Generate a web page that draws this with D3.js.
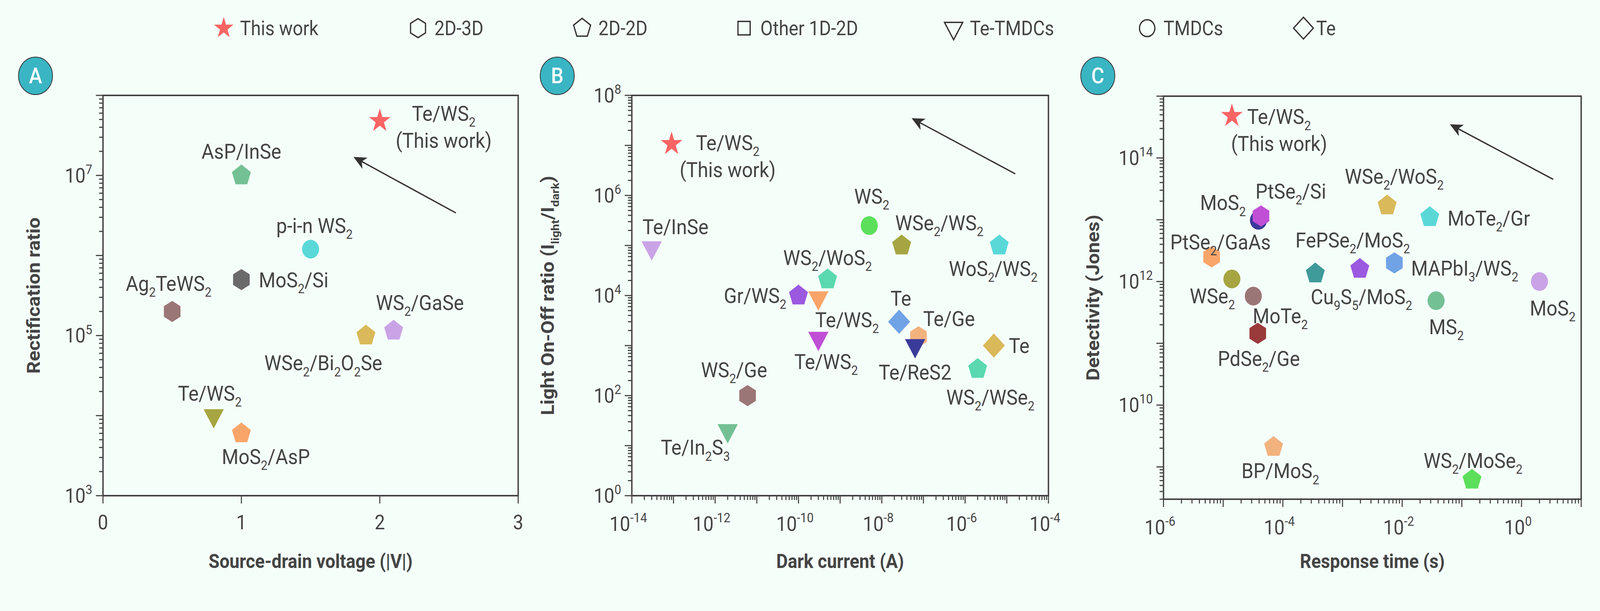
<!DOCTYPE html>
<html>
<head>
<meta charset="utf-8">
<script src="https://cdn.jsdelivr.net/npm/d3@7"></script>
<style>
  html, body { margin: 0; padding: 0; background: #f5fffa; overflow: hidden; }
  svg { display: block; width: 100vw; height: 100vh; font-family: Roboto, "Noto Sans", sans-serif; }
</style>
</head>
<body>
<svg id="chart" viewBox="0 0 4505 1563" preserveAspectRatio="none"></svg>
<script>
// ---- data (A) ----
var aLabels = ["Te/WS_{2}|(This work)", "AsP/InSe", "p-i-n WS_{2}", "MoS_{2}/Si", "Ag_{2}TeWS_{2}", "WSe_{2}/Bi_{2}O_{2}Se", "WS_{2}/GaSe", "Te/WS_{2}", "MoS_{2}/AsP"];
var aVoltage = [2, 1, 1.5, 1, 0.5, 1.9, 2.1, 0.8, 1];
var aRatio = [4.8e7, 1e7, 1.2e6, 5e5, 2e5, 1e5, 1.15e5, 1e4, 6e3];
var aShape = ["star", "pent", "circle", "hex", "hex", "pent", "pent", "tri", "pent"];
var aColor = ["#f96464", "#74c095", "#5ad8d8", "#6a6a6a", "#9b7676", "#d9b95a", "#c9a3e6", "#a6a542", "#f9a56a"];
var aLabelDx = [180, 0, 11, 49, -10, -120, 74, -11, 69];
var aLabelDy = [0, -43, -41, 20, -53, 89, -53, -38, 78];
var aAnchor = ["middle", "middle", "middle", "start", "middle", "middle", "middle", "middle", "middle"];

// ---- data (B) ----
var bLabels = ["Te/WS_{2}|(This work)", "Te/InSe", "WS_{2}/Ge", "Te/In_{2}S_{3}", "Gr/WS_{2}", "Te/WS_{2}", "WS_{2}/WoS_{2}", "Te/WS_{2}", "WS_{2}", "WSe_{2}/WS_{2}", "Te", "Te/Ge", "Te/ReS2", "WoS_{2}/WS_{2}", "Te", "WS_{2}/WSe_{2}"];
var bDark = [9e-14, 3e-14, 6e-12, 2e-12, 1e-10, 3e-10, 5e-10, 3e-10, 5e-9, 3e-8, 2.6e-8, 7.6e-8, 6.3e-8, 6.6e-6, 4.9e-6, 2e-6];
var bOnOff = [1.07e7, 9e4, 100, 20, 1e4, 9e3, 2.1e4, 1.4e3, 2.5e5, 1e5, 3e3, 1.5e3, 1e3, 1e5, 1e3, 3.4e2];
var bShape = ["star", "tri", "hex", "tri", "pent", "tri", "pent", "tri", "circle", "pent", "diamond", "hex", "tri", "pent", "diamond", "pent"];
var bColor = ["#f96464", "#c9a3e6", "#9b7676", "#74c095", "#9b59e0", "#f9a56a", "#5ad8b0", "#c04fd6", "#5ce05c", "#a6a542", "#6fa3e6", "#f2b27e", "#3a3a9a", "#5ad8d8", "#d9b95a", "#5ad8b0"];
var bLabelDx = [158, 67, -38, -91, -122, 81, 0, 22, 7, 106, 5, 86, 0, -17, 42, 36];
var bLabelDy = [16, -35, -47, 62, 19, 75, -37, 79, -56, -39, -41, -27, 87, 78, 19, 91];
var bAnchor = ["middle", "middle", "middle", "middle", "middle", "middle", "middle", "middle", "middle", "middle", "middle", "middle", "middle", "middle", "start", "middle"];

// ---- data (C) ----
var cLabels = ["Te/WS_{2}|(This work)", "MoS_{2}", "PtSe_{2}/Si", "PtSe_{2}/GaAs", "WSe_{2}", "MoTe_{2}", "PdSe_{2}/Ge", "BP/MoS_{2}", "Cu_{9}S_{5}/MoS_{2}", "FePSe_{2}/MoS_{2}", "WSe_{2}/WoS_{2}", "MAPbI_{3}/WS_{2}", "MoTe_{2}/Gr", "MS_{2}", "MoS_{2}", "WS_{2}/MoSe_{2}"];
var cTime = [1.4e-5, 3.9e-5, 4.3e-5, 6.4e-6, 1.4e-5, 3.2e-5, 3.8e-5, 7e-5, 3.5e-4, 1.95e-3, 5.6e-3, 7.4e-3, 2.9e-2, 3.7e-2, 2, 0.148];
var cDetect = [4.8e14, 9.8e12, 1.15e13, 2.5e12, 1.1e12, 5.8e11, 1.45e11, 2.1e9, 1.35e12, 1.6e12, 1.7e13, 2e12, 1.1e13, 4.9e11, 1e12, 6.2e8];
var cShape = ["star", "circle", "hex", "hex", "circle", "circle", "hex", "pent", "pent", "pent", "pent", "hex", "pent", "circle", "circle", "pent"];
var cColor = ["#f96464", "#3a3a9a", "#c04fd6", "#f9a56a", "#a6a542", "#9b7676", "#9a3a3a", "#f2b27e", "#3f9a9a", "#9b59e0", "#d9b95a", "#6fa3e6", "#5ad8d8", "#74c095", "#c9a3e6", "#5ce05c"];
var cLabelDx = [133, -100, 84, 25, -55, 76, 3, 19, 130, -20, 20, 198, 50, 29, 37, 3];
var cLabelDy = [21, -26, -45, -19, 62, 69, 83, 80, 78, -55, -56, 32, 21, 86, 87, -30];
var cAnchor = ["middle", "middle", "middle", "middle", "middle", "middle", "middle", "middle", "middle", "middle", "middle", "middle", "start", "middle", "middle", "middle"];

// legend
var legendNames = ["This work", "2D-3D", "2D-2D", "Other 1D-2D", "Te-TMDCs", "TMDCs", "Te"];
var legendShapes = ["star", "hex", "pent", "square", "tri", "circle", "diamond"];
var legendX = [630, 1177, 1639, 2095, 2685, 3230, 3670];

var ink = "#444";
var svg = d3.select("#chart");
svg.append("rect").attr("width", 4505).attr("height", 1563).attr("fill", "#f5fffa");

// marker path for a shape
function polygon(n, r, rot) {
  var pts = d3.range(n).map(function (i) {
    var a = rot + i * 2 * Math.PI / n;
    return [r * Math.sin(a), -r * Math.cos(a)];
  });
  return "M" + pts.join("L") + "Z";
}
function shapePath(s, k) {
  k = k || 1;
  if (s == "star") return d3.symbol(d3.symbolStar, 1150 * k * k)();
  if (s == "pent") return polygon(5, 28 * k, 0);
  if (s == "hex") return polygon(6, 27 * k, 0);
  if (s == "tri") return polygon(3, 33 * k, Math.PI);
  if (s == "diamond") return polygon(4, 31 * k, 0);
  if (s == "square") return polygon(4, 27 * k, Math.PI / 4);
  return d3.symbol(d3.symbolCircle, Math.PI * 24 * 24 * k * k)();
}

// text with _{sub} pieces
function richText(sel, str, size) {
  var parts = str.split(/(_\{[^}]*\})/).filter(function (p) { return p.length; });
  var down = false;
  parts.forEach(function (p) {
    if (p[0] == "_") {
      sel.append("tspan").attr("font-size", size * 0.62).attr("dy", size * 0.28).text(p.slice(2, -1));
      down = true;
    } else {
      var t = sel.append("tspan").text(p);
      if (down) t.attr("dy", -size * 0.28);
      down = false;
    }
  });
}

function powLabel(sel, exp, size) {
  sel.append("tspan").text("10");
  sel.append("tspan").attr("font-size", size * 0.65).attr("dy", -size * 0.42).text(exp);
}

// ---- legend ----
legendNames.forEach(function (name, i) {
  var g = svg.append("g").attr("transform", "translate(" + legendX[i] + ",72)");
  g.append("path").attr("d", shapePath(legendShapes[i], 0.9))
    .attr("fill", i == 0 ? "#f96464" : "none")
    .attr("stroke", i == 0 ? "none" : "#333").attr("stroke-width", 3.5);
  g.append("text").attr("x", i == 6 ? 36 : 46).attr("y", 18).attr("font-size", 51).attr("fill", ink).text(name);
});

function panel(opt) {
  var g = svg.append("g");
  var x = opt.x, y = opt.y;
  var L = opt.box[0], R = opt.box[1], T = opt.box[2], B = opt.box[3];

  // letter badge
  g.append("circle").attr("cx", opt.badge).attr("cy", 194).attr("r", 48)
    .attr("fill", "#3ab5c3").attr("stroke", "#333").attr("stroke-width", 2);
  g.append("text").attr("x", opt.badge).attr("y", 213).attr("text-anchor", "middle")
    .attr("font-size", 56).attr("font-weight", 500).attr("fill", "#fff").text(opt.letter);

  // y ticks (log)
  var yd = y.domain();
  var e0 = Math.floor(Math.log10(yd[0])), e1 = Math.ceil(Math.log10(yd[1]));
  for (var e = e0; e <= e1; e++) {
    for (var m = 1; m < 10; m++) {
      var v = m * Math.pow(10, e);
      if (v < yd[0] * 0.999 || v > yd[1] * 1.001) continue;
      var len = m == 1 ? 20 : 11;
      g.append("line").attr("x1", L - len).attr("x2", L).attr("y1", y(v)).attr("y2", y(v))
        .attr("stroke", ink).attr("stroke-width", 3);
      if (m == 1 && (Math.abs(e % 2) == opt.yParity)) {
        var t = g.append("text").attr("x", L - 30).attr("y", y(v) + 18).attr("text-anchor", "end")
          .attr("font-size", 52).attr("fill", ink);
        powLabel(t, e, 52);
      }
    }
  }
  // x ticks
  if (opt.xlog) {
    var xd = x.domain();
    var f0 = Math.round(Math.log10(xd[0])), f1 = Math.round(Math.log10(xd[1]));
    for (var e = f0; e <= f1; e++) {
      for (var m = 1; m < 10; m++) {
        var v = m * Math.pow(10, e);
        if (v > xd[1] * 1.001) continue;
        var len = m == 1 ? 20 : 11;
        g.append("line").attr("x1", x(v)).attr("x2", x(v)).attr("y1", B).attr("y2", B + len)
          .attr("stroke", ink).attr("stroke-width", 3);
        if (m == 1 && (e % 2 == 0)) {
          var t = g.append("text").attr("x", x(v) - 10).attr("y", B + 90).attr("text-anchor", "middle")
            .attr("font-size", 52).attr("fill", ink);
          powLabel(t, e, 52);
        }
      }
    }
  } else {
    x.ticks(3).forEach(function (v) {
      g.append("line").attr("x1", x(v)).attr("x2", x(v)).attr("y1", B).attr("y2", B + 20)
        .attr("stroke", ink).attr("stroke-width", 3);
      g.append("text").attr("x", x(v)).attr("y", B + 86).attr("text-anchor", "middle")
        .attr("font-size", 52).attr("fill", ink).text(v);
    });
  }
  g.append("rect").attr("x", L).attr("y", T).attr("width", R - L).attr("height", B - T)
    .attr("fill", "none").attr("stroke", ink).attr("stroke-width", 4);

  // axis titles
  g.append("text").attr("x", (L + R) / 2).attr("y", 1453).attr("text-anchor", "middle")
    .attr("font-size", 50).attr("font-weight", "bold").attr("fill", ink).text(opt.xtitle);
  var yt = g.append("text").attr("transform", "translate(" + opt.ytx + "," + (T + B) / 2 + ") rotate(-90)")
    .attr("text-anchor", "middle").attr("font-size", 50).attr("font-weight", "bold").attr("fill", ink);
  richText(yt, opt.ytitle, 50);

  // arrow
  var a = opt.arrow;
  var x1 = x(a[0]), y1 = y(a[1]), x2 = x(a[2]), y2 = y(a[3]);
  var ang = Math.atan2(y2 - y1, x2 - x1);
  g.append("line").attr("x1", x1).attr("y1", y1).attr("x2", x2 - 14 * Math.cos(ang)).attr("y2", y2 - 14 * Math.sin(ang))
    .attr("stroke", "#333").attr("stroke-width", 3.5);
  g.append("path").attr("d", "M0,0L-36,-16L-26,0L-36,16Z").attr("fill", "#333")
    .attr("transform", "translate(" + x2 + "," + y2 + ") rotate(" + ang * 180 / Math.PI + ")");

  // points
  opt.xs.forEach(function (xv, i) {
    var px = x(xv), py = y(opt.ys[i]);
    g.append("path").attr("d", shapePath(opt.shape[i])).attr("fill", opt.color[i])
      .attr("transform", "translate(" + px + "," + py + ")");
    opt.labels[i].split("|").forEach(function (line, j) {
      var t = g.append("text").attr("x", px + opt.dx[i]).attr("y", py + opt.dy[i] + j * 69)
        .attr("text-anchor", opt.anchor[i]).attr("font-size", 54).attr("fill", ink);
      richText(t, line, 54);
    });
  });
}

panel({
  letter: "A", badge: 100, box: [290, 1459, 244, 1268], yParity: 1,
  x: d3.scaleLinear().domain([0, 3]).range([290, 1459]),
  y: d3.scaleLog().domain([1e3, 1e8]).range([1268, 244]),
  xlog: false, xtitle: "Source-drain voltage (|V|)", ytitle: "Rectification ratio", ytx: 112,
  arrow: [2.55, 3.4e6, 1.81, 1.7e7],
  xs: aVoltage, ys: aRatio, shape: aShape, color: aColor, labels: aLabels, dx: aLabelDx, dy: aLabelDy, anchor: aAnchor
});
panel({
  letter: "B", badge: 1569, box: [1779, 2952, 244, 1268], yParity: 0,
  x: d3.scaleLog().domain([1e-14, 1e-4]).range([1779, 2952]),
  y: d3.scaleLog().domain([1, 1e8]).range([1268, 244]),
  xlog: true, xtitle: "Dark current (A)", ytitle: "Light On-Off ratio (I_{light}/I_{dark})", ytx: 1560,
  arrow: [1.6e-5, 2.7e6, 5.2e-8, 3.5e7],
  xs: bDark, ys: bOnOff, shape: bShape, color: bColor, labels: bLabels, dx: bLabelDx, dy: bLabelDy, anchor: bAnchor
});
panel({
  letter: "C", badge: 3091, box: [3276, 4452, 246, 1277], yParity: 0,
  x: d3.scaleLog().domain([1e-6, 1e1]).range([3276, 4452]),
  y: d3.scaleLog().domain([3e8, 1e15]).range([1277, 246]),
  xlog: true, xtitle: "Response time (s)", ytitle: "Detectivity (Jones)", ytx: 3095,
  arrow: [3.4, 4.5e13, 0.063, 3.5e14],
  xs: cTime, ys: cDetect, shape: cShape, color: cColor, labels: cLabels, dx: cLabelDx, dy: cLabelDy, anchor: cAnchor
});
</script>
</body>
</html>
